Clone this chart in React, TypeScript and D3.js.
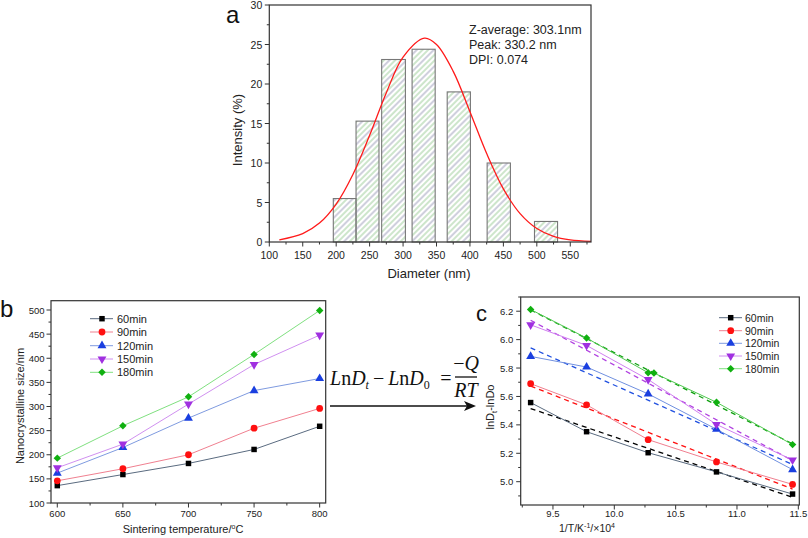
import React from "react";
import * as d3 from "d3";

// ---------- Panel a data ----------
const binStart = [195.7, 229.7, 268, 313.5, 366, 425.7, 496.5];
const binEnd = [229.7, 264, 303.5, 348, 400.7, 460.5, 531];
const binIntensity = [5.5, 15.3, 23.1, 24.4, 19.0, 10.0, 2.6];
const fitDiam = [115, 150, 175, 200, 225, 250, 275, 300, 332, 350, 375, 400, 425, 450, 475, 500, 525, 550, 581];
const fitIntensity = [0.27, 1.06, 2.39, 4.8, 8.55, 13.5, 18.9, 23.4, 25.8, 25.0, 21.6, 16.5, 11.2, 6.73, 3.59, 1.7, 0.71, 0.26, 0.07];
const aXTicks = [100, 150, 200, 250, 300, 350, 400, 450, 500, 550];
const aYTicks = [0, 5, 10, 15, 20, 25, 30];
const infoLines = ["Z-average: 303.1nm", "Peak: 330.2 nm", "DPI: 0.074"];

// ---------- Panel b data ----------
const seriesNames = ["60min", "90min", "120min", "150min", "180min"];
const temps = [600, 650, 700, 750, 800];
const size60 = [136, 159, 182, 211, 259];
const size90 = [146, 171, 200, 255, 296];
const size120 = [162, 215, 276, 333, 358];
const size150 = [173, 222, 305, 387, 448];
const size180 = [193, 260, 320, 408, 499];
const bXTicks = [600, 650, 700, 750, 800];
const bYTicks = [100, 150, 200, 250, 300, 350, 400, 450, 500];

// ---------- Panel c data ----------
const invT = [9.318, 9.774, 10.276, 10.833, 11.453];
const invT180 = [9.318, 9.774, 10.276, 10.323, 10.833, 11.453];
const ln60 = [5.557, 5.352, 5.204, 5.069, 4.913];
const ln90 = [5.69, 5.541, 5.296, 5.139, 4.981];
const ln120 = [5.882, 5.807, 5.618, 5.369, 5.085];
const ln150 = [6.104, 5.959, 5.719, 5.403, 5.153];
const ln180 = [6.212, 6.011, 5.767, 5.765, 5.559, 5.261];
const fitStart = [5.515, 5.673, 5.942, 6.136, 6.209];
const fitEnd = [4.89, 4.948, 5.121, 5.149, 5.266];
const cXTicks = [9.5, 10.0, 10.5, 11.0, 11.5];
const cYTicks = [5.0, 5.2, 5.4, 5.6, 5.8, 6.0, 6.2];

// ---------- styles ----------
const FONT = "'Liberation Sans', Arial, sans-serif";
const AXIS = "#333";
const markerColors = ["#000000", "#ff1010", "#1a3fe0", "#a030e0", "#10b010"];
const lineColorsB = ["#5a6b80", "#f08090", "#7f9be0", "#d090f0", "#80e080"];
const lineColorsC = ["#5a6b80", "#f07f90", "#7090e0", "#d080f0", "#50c850"];
const dashColors = ["#000000", "#ff1010", "#2050e0", "#b040e0", "#10a010"];

function symbolPath(i: number) {
  const types = [d3.symbolSquare, d3.symbolCircle, d3.symbolTriangle, d3.symbolTriangle, d3.symbolSquare];
  const sizes = [30, 36, 34, 34, 28];
  return d3.symbol().type(types[i]).size(sizes[i])() as string;
}

function Marker({ i, x, y }: { i: number; x: number; y: number }) {
  const rot = i === 3 ? " rotate(180)" : i === 4 ? " rotate(45)" : "";
  return <path d={symbolPath(i)} transform={`translate(${x},${y})${rot}`} fill={markerColors[i]} />;
}

function AxisLeft({ scale, x, ticks, minor, fmt, fs, off }: any) {
  return (
    <g>
      {minor.map((t: number) => (
        <line key={"m" + t} x1={x} x2={x - 2.5} y1={scale(t)} y2={scale(t)} stroke={AXIS} strokeWidth={1} />
      ))}
      {ticks.map((t: number) => (
        <g key={t}>
          <line x1={x} x2={x - 4.5} y1={scale(t)} y2={scale(t)} stroke={AXIS} strokeWidth={1} />
          <text x={x - off} y={scale(t)} textAnchor="end" dominantBaseline="central" fontSize={fs} fontFamily={FONT} fill="#222">
            {fmt(t)}
          </text>
        </g>
      ))}
    </g>
  );
}

function AxisBottom({ scale, y, ticks, minor, fmt, fs, off }: any) {
  return (
    <g>
      {minor.map((t: number) => (
        <line key={"m" + t} y1={y} y2={y + 2.5} x1={scale(t)} x2={scale(t)} stroke={AXIS} strokeWidth={1} />
      ))}
      {ticks.map((t: number) => (
        <g key={t}>
          <line y1={y} y2={y + 4.5} x1={scale(t)} x2={scale(t)} stroke={AXIS} strokeWidth={1} />
          <text x={scale(t)} y={y + off} textAnchor="middle" dominantBaseline="central" fontSize={fs} fontFamily={FONT} fill="#222">
            {fmt(t)}
          </text>
        </g>
      ))}
    </g>
  );
}

function Frame({ x0, x1, y0, y1 }: any) {
  return <rect x={x0} y={y0} width={x1 - x0} height={y1 - y0} fill="none" stroke={AXIS} strokeWidth={1.2} />;
}

function PanelA() {
  const x = d3.scaleLinear().domain([100, 581]).range([269.3, 591]);
  const y = d3.scaleLinear().domain([0, 30]).range([242, 5]);
  const minorX = d3.range(125, 581, 50);
  const minorY = d3.range(2.5, 30, 5);
  const line = d3
    .line<number>()
    .x((_, i) => x(fitDiam[i]))
    .y((d) => y(d))
    .curve(d3.curveCatmullRom);
  return (
    <g>
      <defs>
        <pattern id="hatch" patternUnits="userSpaceOnUse" width={12} height={12} patternTransform="rotate(45)">
          <line x1={2} y1={0} x2={2} y2={12} stroke="#9ccc98" strokeWidth={1} />
          <line x1={6} y1={0} x2={6} y2={12} stroke="#a0a0bc" strokeWidth={1} />
          <line x1={10} y1={0} x2={10} y2={12} stroke="#9ccc98" strokeWidth={1} />
        </pattern>
      </defs>
      {binIntensity.map((v, i) => (
        <rect
          key={i}
          x={x(binStart[i])}
          y={y(v)}
          width={x(binEnd[i]) - x(binStart[i])}
          height={y(0) - y(v)}
          fill="url(#hatch)"
          stroke="#777"
          strokeWidth={1.1}
        />
      ))}
      <path d={line(fitIntensity) as string} fill="none" stroke="#ff1a1a" strokeWidth={1.3} />
      <Frame x0={269.3} x1={591} y0={5} y1={242} />
      <AxisLeft scale={y} x={269.3} ticks={aYTicks} minor={minorY} fmt={(t: number) => String(t)} fs={10.5} off={7} />
      <AxisBottom scale={x} y={242} ticks={aXTicks} minor={minorX} fmt={(t: number) => String(t)} fs={10.5} off={13} />
      <text x={429} y={278} textAnchor="middle" fontSize={13} fontFamily={FONT} fill="#222">
        Diameter (nm)
      </text>
      <text transform="translate(242,130) rotate(-90)" textAnchor="middle" fontSize={13} fontFamily={FONT} fill="#222">
        Intensity (%)
      </text>
      {infoLines.map((s, i) => (
        <text key={s} x={469} y={34 + i * 15} fontSize={12.5} fontFamily={FONT} fill="#222">
          {s}
        </text>
      ))}
      <text x={226} y={23} fontSize={24} fontFamily={FONT} fill="#111">
        a
      </text>
    </g>
  );
}

function PanelB() {
  const x = d3.scaleLinear().domain([595.2, 804.6]).range([51, 325.7]);
  const y = d3.scaleLinear().domain([100, 519.3]).range([503, 300.7]);
  const series = [size60, size90, size120, size150, size180];
  const line = d3
    .line<number>()
    .x((_, i) => x(temps[i]))
    .y((d) => y(d));
  const legendY = [318.7, 332, 345.7, 359, 372.3];
  return (
    <g>
      <Frame x0={51} x1={325.7} y0={300.7} y1={503} />
      <AxisLeft scale={y} x={51} ticks={bYTicks} minor={d3.range(125, 500, 50)} fmt={(t: number) => String(t)} fs={9.5} off={6.5} />
      <AxisBottom scale={x} y={503} ticks={bXTicks} minor={d3.range(625, 800, 50)} fmt={(t: number) => String(t)} fs={9.5} off={10} />
      {series.map((s, i) => (
        <path key={"l" + i} d={line(s) as string} fill="none" stroke={lineColorsB[i]} strokeWidth={1} />
      ))}
      {series.map((s, i) => (
        <g key={"m" + i}>
          {s.map((v, j) => (
            <Marker key={j} i={i} x={x(temps[j])} y={y(v)} />
          ))}
        </g>
      ))}
      {seriesNames.map((n, i) => (
        <g key={n}>
          <line x1={90} x2={113} y1={legendY[i]} y2={legendY[i]} stroke={lineColorsB[i]} strokeWidth={1} />
          <Marker i={i} x={102} y={legendY[i]} />
          <text x={117} y={legendY[i]} dominantBaseline="central" fontSize={11} fontFamily={FONT} fill="#222">
            {n}
          </text>
        </g>
      ))}
      <text x={183} y={533} textAnchor="middle" fontSize={11} fontFamily={FONT} fill="#222">
        Sintering temperature/
        <tspan fontSize={7} dy={-4}>o</tspan>
        <tspan dy={4}>C</tspan>
      </text>
      <text transform="translate(24,406) rotate(-90)" textAnchor="middle" fontSize={11} fontFamily={FONT} fill="#222">
        Nanocrystalline size/nm
      </text>
      <text x={0} y={317} fontSize={24} fontFamily={FONT} fill="#111">
        b
      </text>
    </g>
  );
}

function PanelC() {
  const x = d3.scaleLinear().domain([9.237, 11.508]).range([520.7, 799.3]);
  const y = d3.scaleLinear().domain([4.836, 6.3]).range([505, 297]);
  const series = [ln60, ln90, ln120, ln150, ln180];
  const xs = [invT, invT, invT, invT, invT180];
  const legendY = [317.7, 330.7, 343.3, 356, 368.7];
  return (
    <g>
      <Frame x0={520.7} x1={799.3} y0={297} y1={505} />
      <AxisLeft scale={y} x={520.7} ticks={cYTicks} minor={d3.range(4.9, 6.31, 0.2)} fmt={d3.format(".1f")} fs={9.5} off={7.5} />
      <AxisBottom scale={x} y={505} ticks={cXTicks} minor={[9.25, 9.75, 10.25, 10.75, 11.25]} fmt={d3.format(".1f")} fs={9.5} off={8.5} />
      {fitStart.map((v, i) => (
        <line
          key={"f" + i}
          x1={x(invT[0])}
          x2={x(invT[4])}
          y1={y(v)}
          y2={y(fitEnd[i])}
          stroke={dashColors[i]}
          strokeWidth={1.3}
          strokeDasharray="5,4"
        />
      ))}
      {series.map((s, i) => {
        const line = d3
          .line<number>()
          .x((_, j) => x(xs[i][j]))
          .y((d) => y(d));
        return <path key={"l" + i} d={line(s) as string} fill="none" stroke={lineColorsC[i]} strokeWidth={1} />;
      })}
      {series.map((s, i) => (
        <g key={"m" + i}>
          {s.map((v, j) => (
            <Marker key={j} i={i} x={x(xs[i][j])} y={y(v)} />
          ))}
        </g>
      ))}
      {seriesNames.map((n, i) => (
        <g key={n}>
          <line x1={719} x2={742} y1={legendY[i]} y2={legendY[i]} stroke={lineColorsB[i]} strokeWidth={1} />
          <Marker i={i} x={730.7} y={legendY[i]} />
          <text x={745} y={legendY[i]} dominantBaseline="central" fontSize={10.5} fontFamily={FONT} fill="#222">
            {n}
          </text>
        </g>
      ))}
      <text x={587} y={532} textAnchor="middle" fontSize={10.5} fontFamily={FONT} fill="#222">
        1/T/K
        <tspan fontSize={7} dy={-4}>-1</tspan>
        <tspan dy={4}>/×10</tspan>
        <tspan fontSize={7} dy={-4}>4</tspan>
      </text>
      <text transform="translate(494,407) rotate(-90)" textAnchor="middle" fontSize={11} fontFamily={FONT} fill="#222">
        lnD
        <tspan fontSize={7.5} dy={3}>t</tspan>
        <tspan dy={-3}>-lnDo</tspan>
      </text>
      <text x={476} y={321} fontSize={22} fontFamily={FONT} fill="#111">
        c
      </text>
    </g>
  );
}

function Equation() {
  const serif = "'Liberation Serif', 'Times New Roman', serif";
  return (
    <g fontFamily={serif} fill="#111">
      <text x={330} y={385} fontSize={20}>
        <tspan fontStyle="italic">L</tspan>
        <tspan>n</tspan>
        <tspan fontStyle="italic">D</tspan>
        <tspan fontStyle="italic" fontSize={12} dy={4}>t</tspan>
        <tspan dy={-4} dx={4}>−</tspan>
        <tspan fontStyle="italic" dx={4}>L</tspan>
        <tspan>n</tspan>
        <tspan fontStyle="italic">D</tspan>
        <tspan fontSize={12} dy={4}>0</tspan>
      </text>
      <text x={446} y={385} fontSize={20} textAnchor="middle">
        =
      </text>
      <text x={466} y={370} fontSize={20} textAnchor="middle">
        <tspan>−</tspan>
        <tspan fontStyle="italic">Q</tspan>
      </text>
      <line x1={455} x2={477} y1={377} y2={377} stroke="#111" strokeWidth={1.3} />
      <text x={466} y={397} fontSize={20} textAnchor="middle" fontStyle="italic">
        RT
      </text>
      <line x1={330} x2={470} y1={406} y2={406} stroke="#111" strokeWidth={1.3} />
      <path d="M476,406 L464,401 L467,406 L464,411 Z" fill="#111" />
    </g>
  );
}

export default function App() {
  return (
    <svg
      width={808}
      height={538}
      style={{ position: "absolute", left: 0, top: 0, background: "#fff" }}
      xmlns="http://www.w3.org/2000/svg"
    >
      <rect width={808} height={538} fill="#fff" />
      <PanelA />
      <PanelB />
      <Equation />
      <PanelC />
    </svg>
  );
}
